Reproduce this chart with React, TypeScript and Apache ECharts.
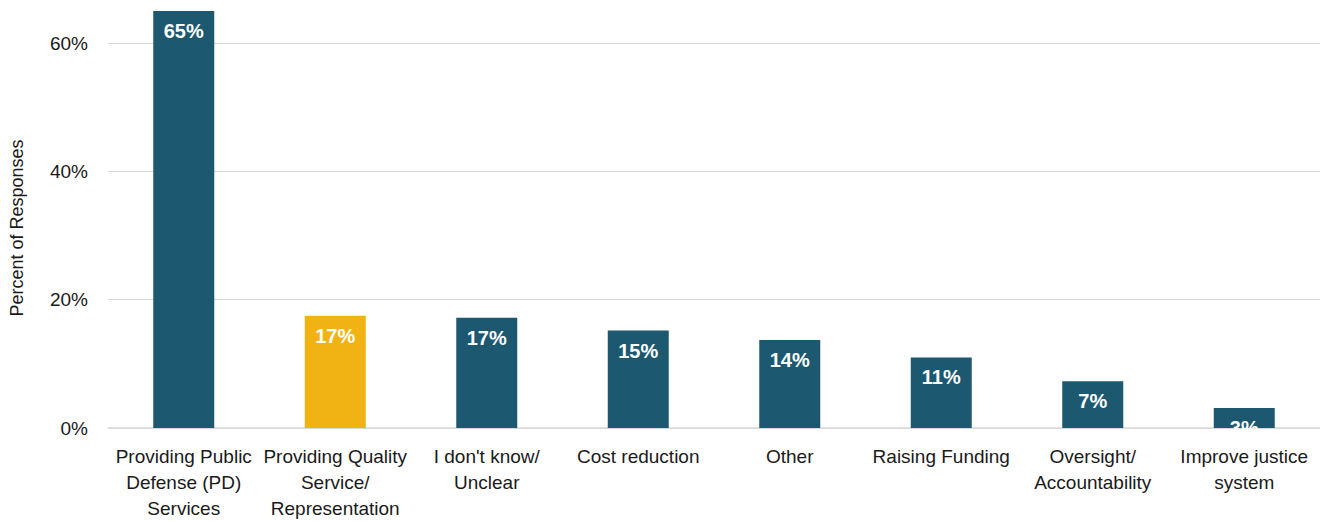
import React, { useEffect, useRef } from "react";
import * as echarts from "echarts";

const categories = [
  "Providing Public\nDefense (PD)\nServices",
  "Providing Quality\nService/\nRepresentation",
  "I don't know/\nUnclear",
  "Cost reduction",
  "Other",
  "Raising Funding",
  "Oversight/\nAccountability",
  "Improve justice\nsystem",
];
const values = [65, 17.5, 17.2, 15.2, 13.7, 11.0, 7.3, 3.1];
const shownPercents = [65, 17, 17, 15, 14, 11, 7, 3];
const highlightIndex = 1;
const yTicks = [0, 20, 40, 60];

const FONT = "'Liberation Sans', Arial, sans-serif";
const OFFSET = 21;

export default function App() {
  const ref = useRef<HTMLDivElement>(null);
  useEffect(() => {
    const chart = echarts.init(ref.current!, null, { renderer: "svg" });
    chart.setOption({
      animation: false,
      grid: { left: 108, right: 0, top: 0, bottom: 92 },
      graphic: [
        {
          type: "text",
          x: 8,
          y: 228 + OFFSET,
          rotation: Math.PI / 2,
          style: {
            text: "Percent of Responses",
            font: `18px ${FONT}`,
            fill: "#1a1a1a",
            align: "center",
            verticalAlign: "top",
          },
        },
      ],
      xAxis: {
        type: "category",
        data: categories,
        axisLine: { lineStyle: { color: "#d9d9d9", width: 1.5 } },
        axisTick: { show: false },
        axisLabel: {
          interval: 0,
          margin: 15,
          color: "#1a1a1a",
          fontSize: 19,
          fontFamily: FONT,
          lineHeight: 26,
        },
      },
      yAxis: {
        type: "value",
        min: 0,
        max: 70,
        interval: 20,
        axisLine: { show: false },
        axisTick: { show: false },
        splitLine: { lineStyle: { color: "#d9d9d9", width: 1 } },
        axisLabel: {
          margin: 20,
          color: "#1a1a1a",
          fontSize: 19,
          fontFamily: FONT,
          formatter: (v: number) => (yTicks.includes(v) ? `${v}%` : ""),
        },
      },
      series: [
        {
          type: "bar",
          barWidth: 61,
          data: values.map((v, i) => ({
            value: v,
            itemStyle: { color: i === highlightIndex ? "#f0b313" : "#1c5870" },
          })),
          label: {
            show: true,
            position: "insideTop",
            distance: 10,
            color: "#ffffff",
            fontWeight: "bold",
            fontSize: 20,
            fontFamily: FONT,
            formatter: (p: any) => `${shownPercents[p.dataIndex]}%`,
          },
        },
      ],
    });
    return () => chart.dispose();
  }, []);
  return (
    <div style={{ position: "fixed", left: 0, top: 0, width: 1320, height: 521, overflow: "hidden", background: "#fff" }}>
      <div
        ref={ref}
        style={{ position: "absolute", left: 0, top: -OFFSET, width: 1320, height: 521 + OFFSET }}
      />
    </div>
  );
}
